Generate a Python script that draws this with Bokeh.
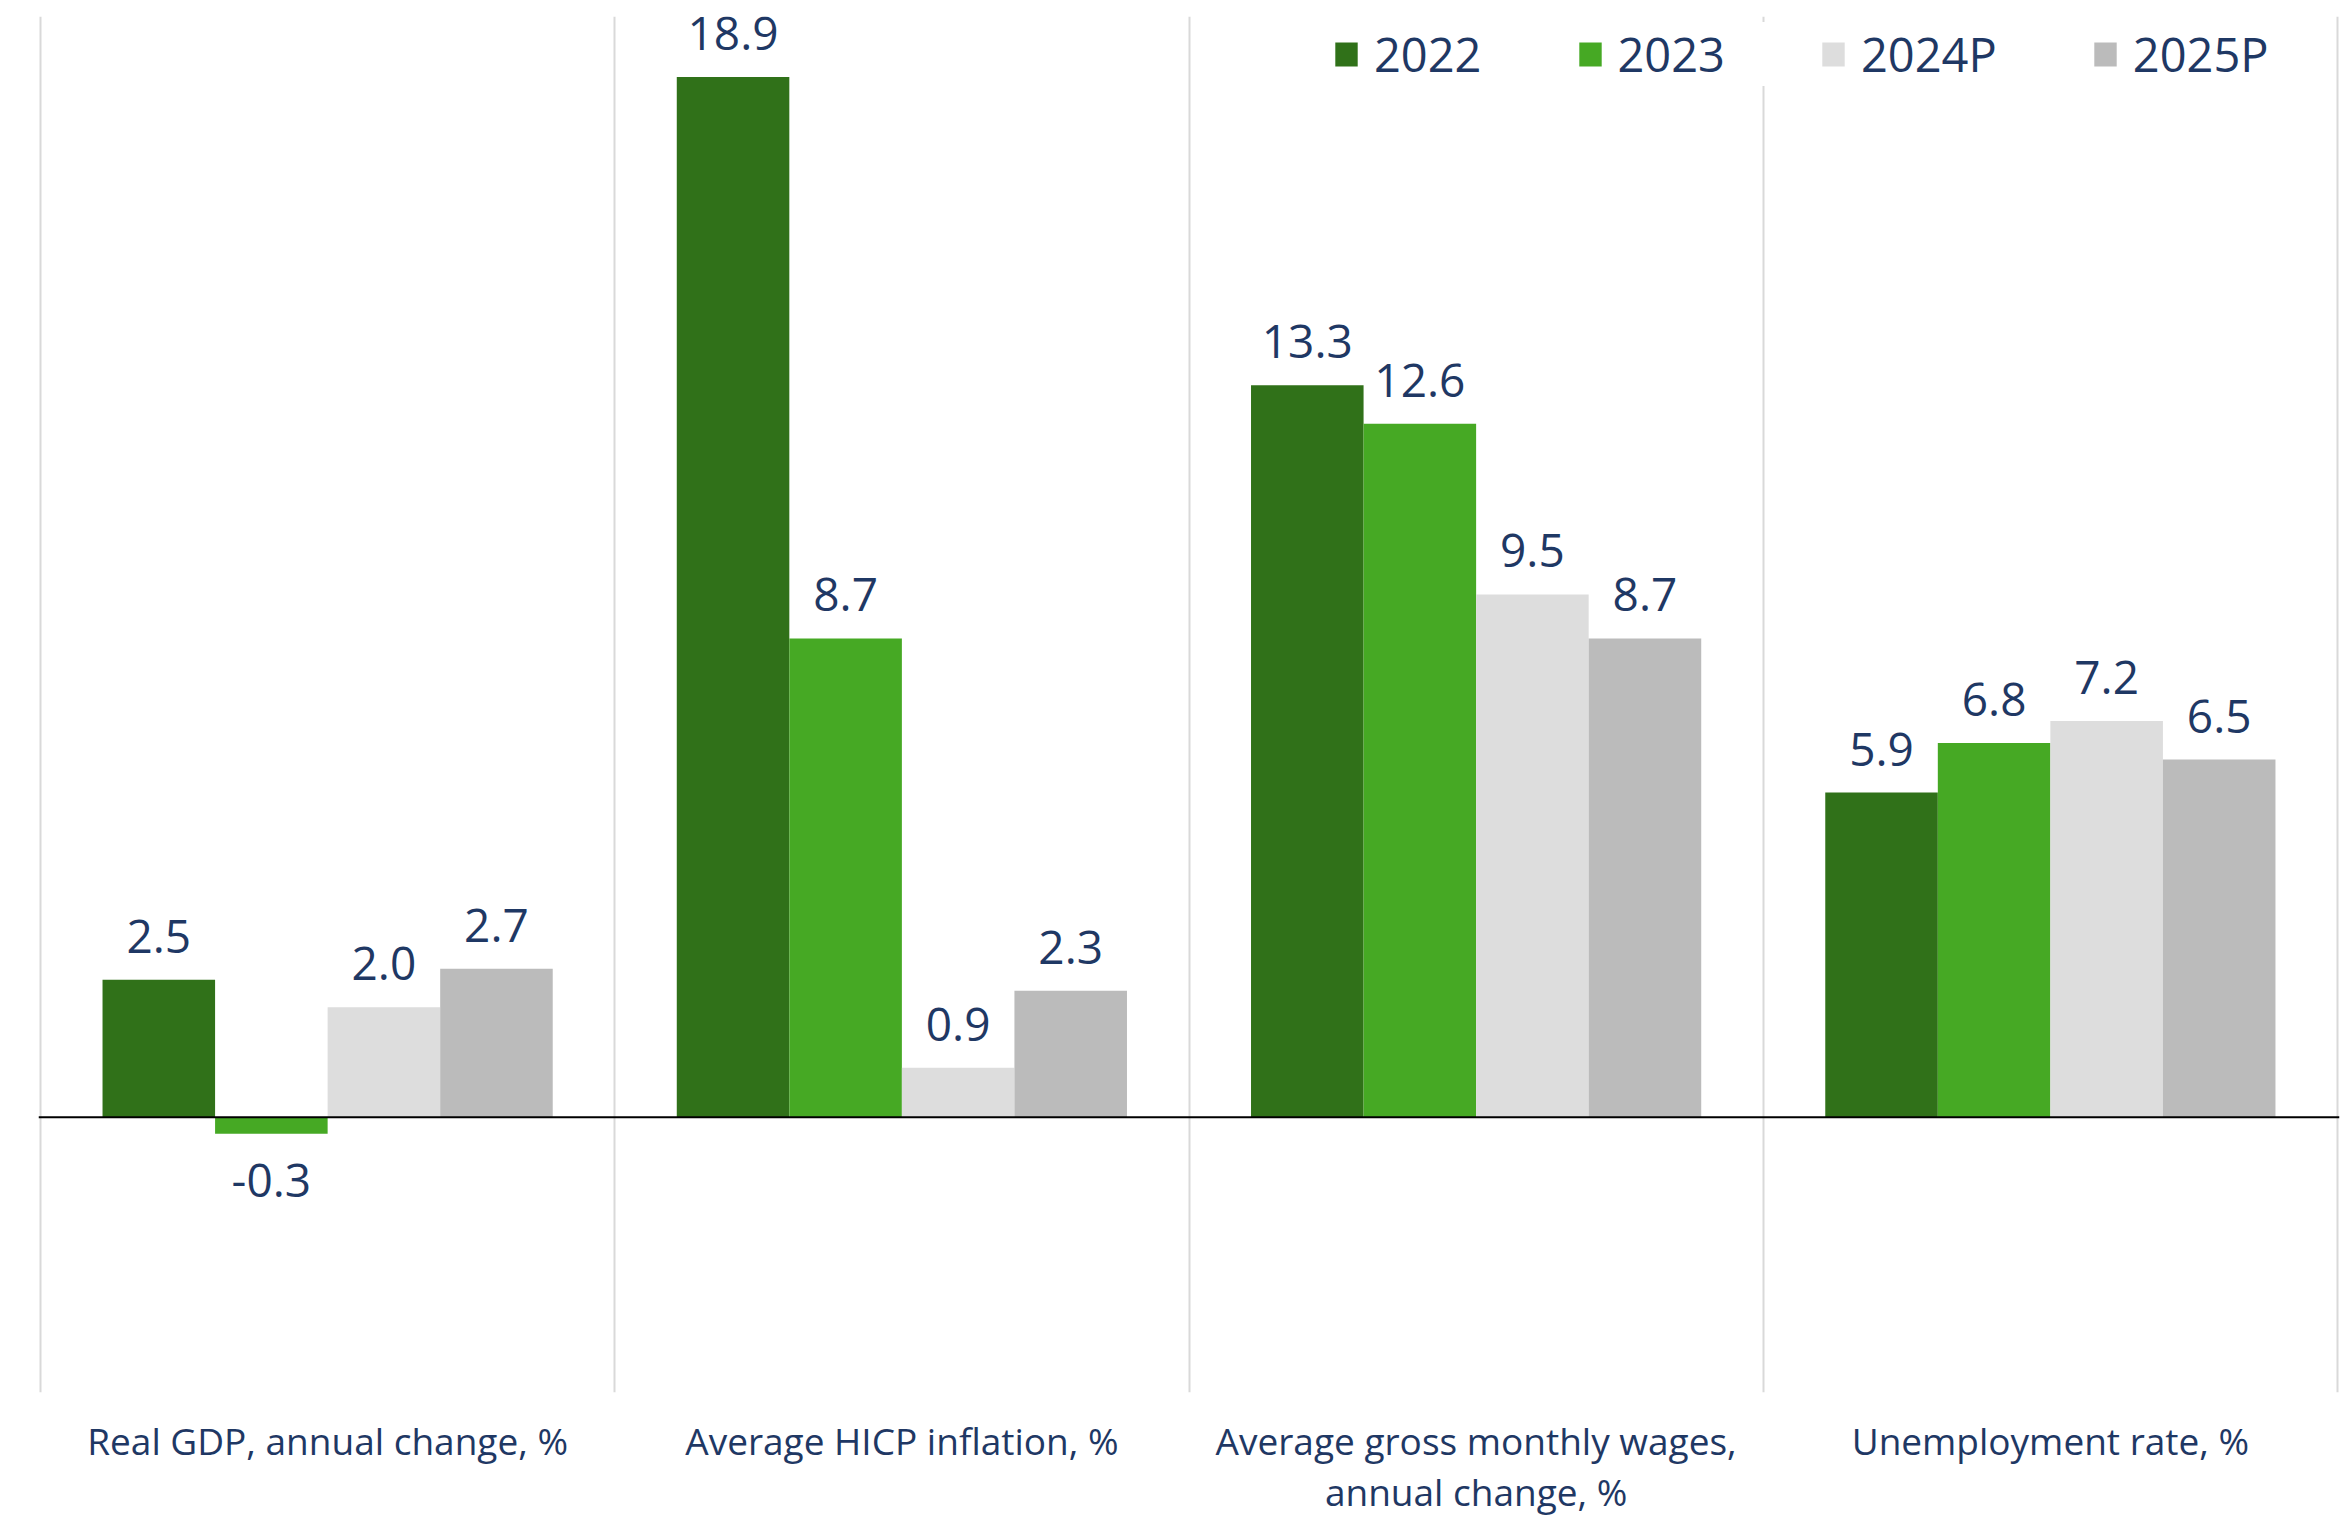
from bokeh.plotting import figure
from bokeh.models import ColumnDataSource, Range1d, FixedTicker, Span, Legend, LegendItem
from bokeh.core.properties import value
from bokeh.embed import file_html
from bokeh.resources import INLINE
import numpy as np

# ---- data ----
categories = ["Real GDP, annual change, %",
              "Average HICP inflation, %",
              "Average gross monthly wages,\nannual change, %",
              "Unemployment rate, %"]
series_names = ["2022", "2023", "2024P", "2025P"]
v2022 = [2.5, 18.9, 13.3, 5.9]
v2023 = [-0.3, 8.7, 12.6, 6.8]
v2024 = [2.0, 0.9, 9.5, 7.2]
v2025 = [2.7, 2.3, 8.7, 6.5]
series_values = [v2022, v2023, v2024, v2025]
colors = ["#307119", "#46A924", "#DDDDDD", "#BBBBBB"]

FONT = "Open Sans"
TEXT = "#1F3864"

centers = np.arange(len(categories)) + 0.5
bar_w = 0.196
offsets = [-1.5 * bar_w, -0.5 * bar_w, 0.5 * bar_w, 1.5 * bar_w]

p = figure(width=2346, height=1519,
           x_range=Range1d(-0.0035, len(categories) + 0.0035), y_range=Range1d(-5, 20),
           output_backend="svg", toolbar_location=None,
           min_border_left=38, min_border_right=7, min_border_top=16, min_border_bottom=124)
p.outline_line_color = None
p.yaxis.visible = False
p.ygrid.visible = False
p.background_fill_color = "white"
p.border_fill_color = "white"

# vertical dividers between categories
p.xgrid.ticker = FixedTicker(ticks=list(range(len(categories) + 1)))
p.xgrid.grid_line_color = "#D9D9D9"
p.xgrid.grid_line_width = 2

# category axis
p.xaxis.ticker = FixedTicker(ticks=list(centers))
p.xaxis.major_label_overrides = {float(c): lab for c, lab in zip(centers, categories)}
p.xaxis.axis_line_color = None
p.xaxis.major_tick_line_color = None
p.xaxis.major_tick_out = 0
p.xaxis.major_tick_in = 0
p.xaxis.minor_tick_line_color = None
p.xaxis.major_label_standoff = 22
p.xaxis.major_label_text_font = FONT
p.xaxis.major_label_text_font_size = "37px"
p.xaxis.major_label_text_color = TEXT
p.xaxis.major_label_text_line_height = 1.0

renderers = []
for name, vals, col, off in zip(series_names, series_values, colors, offsets):
    vals = np.array(vals, dtype=float)
    src = ColumnDataSource(dict(
        x=centers + off,
        top=vals,
        label=["{:.1f}".format(v) for v in vals],
        base=["bottom" if v >= 0 else "top" for v in vals],
        yoff=[-27 if v >= 0 else 30 for v in vals],
    ))
    r = p.vbar(x="x", top="top", bottom=0, width=bar_w, source=src,
               fill_color=col, line_color=None)
    renderers.append(r)
    p.text(x="x", y="top", text="label", source=src,
           text_align="center", text_baseline="base", y_offset="yoff",
           text_font=value(FONT), text_font_size="46px", text_color=TEXT)

p.add_layout(Span(location=0, dimension="width", line_color="black", line_width=2))

legend = Legend(items=[LegendItem(label=n, renderers=[r]) for n, r in zip(series_names, renderers)],
                orientation="horizontal", location=(1294, 1306),
                glyph_width=28, glyph_height=30, label_height=56, label_standoff=14, spacing=94,
                padding=20, margin=0,
                label_text_font=FONT, label_text_font_size="47px", label_text_color=TEXT,
                background_fill_color="white", background_fill_alpha=1.0,
                border_line_color=None)
p.add_layout(legend)

open("out.html", "w").write(file_html(p, INLINE))
